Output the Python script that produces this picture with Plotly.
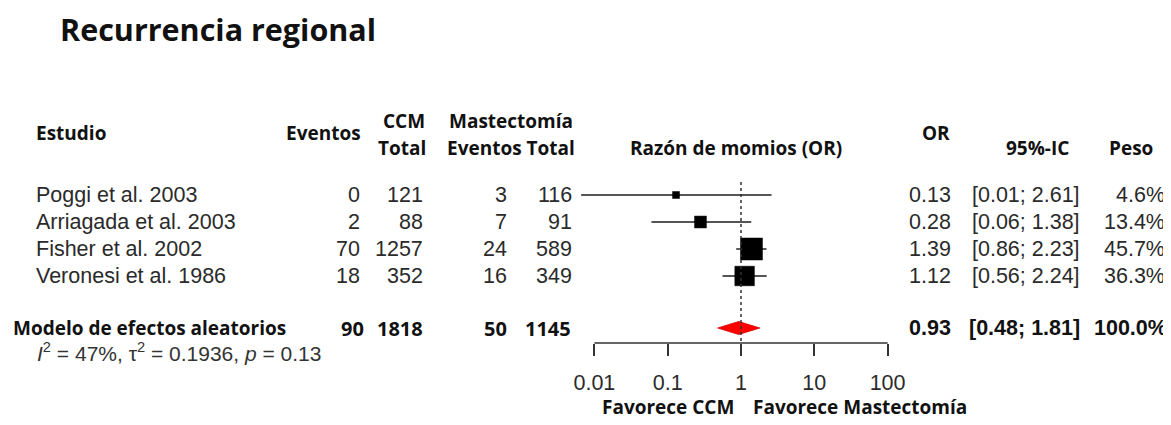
import plotly.graph_objects as go

# ---------------- data ----------------
studies = ["Poggi et al. 2003", "Arriagada et al. 2003", "Fisher et al. 2002", "Veronesi et al. 1986"]
ccm_events = [0, 2, 70, 18]
ccm_total = [121, 88, 1257, 352]
mast_events = [3, 7, 24, 16]
mast_total = [116, 91, 589, 349]
odds_ratio = [0.13, 0.28, 1.39, 1.12]
ci_low = [0.0066, 0.06, 0.86, 0.56]
ci_high = [2.61, 1.38, 2.23, 2.24]
weight = [4.6, 13.4, 45.7, 36.3]

summary_label = "Modelo de efectos aleatorios"
summary_ccm = [90, 1818]
summary_mast = [50, 1145]
summary_or = 0.93
summary_low = 0.48
summary_high = 1.81
summary_weight = 100.0
heterogeneity = "<i>I</i><sup>2</sup> = 47%, τ<sup>2</sup> = 0.1936, <i>p</i> = 0.13"

tick_vals = [0.01, 0.1, 1, 10, 100]
tick_text = ["0.01", "0.1", "1", "10", "100"]

title = "Recurrencia regional"

# ---------------- layout helpers ----------------
PAGE_W, PAGE_H = 1171, 425
OFF = 8                      # default page margin around the plot div
W, H = PAGE_W - OFF, PAGE_H - OFF
ROW0, ROWSTEP = 195, 27


def xp(p):
    return (p - OFF) / W


def ypx(p):
    return 1 + (p - ROW0) / ROWSTEP


def ypaper(p):
    return 1 - (p - OFF) / H


rows = [1, 2, 3, 4]
sum_row = ypx(328)

BODY = "Liberation Sans"
HEAD = "Open Sans"
BODY_SIZE = 21.5
HEAD_SIZE = 19
TXT = "#2a2a2a"
DARK = "#111111"

fig = go.Figure()

# whiskers
wx, wy = [], []
for lo, hi, r in zip(ci_low, ci_high, rows):
    wx += [lo, hi, None]
    wy += [r, r, None]
fig.add_trace(go.Scatter(x=wx, y=wy, mode="lines", line=dict(color="#555555", width=1.9),
                         hoverinfo="skip", showlegend=False))

# squares (area proportional to weight)
fig.add_trace(go.Scatter(x=odds_ratio, y=rows, mode="markers", opacity=1,
                         marker=dict(symbol="square", color="#000000", opacity=1,
                                     size=[3.25 * w ** 0.5 for w in weight],
                                     line=dict(width=0.5, color="#000000")),
                         showlegend=False, hoverinfo="skip"))

# diamond for pooled estimate
h = 6.5 / ROWSTEP
fig.add_trace(go.Scatter(x=[summary_low, summary_or, summary_high, summary_or, summary_low],
                         y=[sum_row, sum_row - h, sum_row, sum_row + h, sum_row],
                         mode="lines", fill="toself", fillcolor="#ff0000",
                         line=dict(color="#d00000", width=0.8), showlegend=False, hoverinfo="skip"))

shapes = [
    # reference line at OR = 1
    dict(type="line", xref="x", yref="y", x0=1, x1=1, y0=ypx(182), y1=ypx(343),
         line=dict(color="#333333", width=1.5, dash="dot")),
    # axis baseline between first and last tick
    dict(type="line", xref="x", yref="paper", x0=tick_vals[0], x1=tick_vals[-1],
         y0=ypaper(343), y1=ypaper(343), line=dict(color="#333333", width=1.5)),
]

ann = []


def add(text, x, y, anchor="left", font=BODY, size=BODY_SIZE, color=TXT, bold=False, yref="y"):
    ann.append(dict(text=f"<b>{text}</b>" if bold else text, x=xp(x), xref="paper", y=y, yref=yref,
                    xanchor=anchor, yanchor="middle", showarrow=False, borderpad=0, borderwidth=0,
                    font=dict(family=font, size=size, color=color)))


# title
add(title, 60, ypaper(29), font=HEAD, size=30.5, color=DARK, bold=True, yref="paper")

# headers
add("Estudio", 36, ypx(133), font=HEAD, size=HEAD_SIZE, color=DARK, bold=True)
add("Eventos", 361, ypx(133), anchor="right", font=HEAD, size=HEAD_SIZE, color=DARK, bold=True)
add("CCM", 404, ypx(121), anchor="center", font=HEAD, size=HEAD_SIZE, color=DARK, bold=True)
add("Total", 426, ypx(148), anchor="right", font=HEAD, size=HEAD_SIZE, color=DARK, bold=True)
add("Mastectomía", 511, ypx(121), anchor="center", font=HEAD, size=HEAD_SIZE, color=DARK, bold=True)
add("Eventos Total", 575, ypx(148), anchor="right", font=HEAD, size=HEAD_SIZE, color=DARK, bold=True)
add("Razón de momios (OR)", 736, ypx(148), anchor="center", font=HEAD, size=HEAD_SIZE, color=DARK, bold=True)
add("OR", 936, ypx(133), anchor="center", font=HEAD, size=HEAD_SIZE, color=DARK, bold=True)
add("95%-IC", 1037, ypx(148), anchor="center", font=HEAD, size=HEAD_SIZE, color=DARK, bold=True)
add("Peso", 1131, ypx(148), anchor="center", font=HEAD, size=HEAD_SIZE, color=DARK, bold=True)

# study rows
for i, r in enumerate(rows):
    add(studies[i], 36, r)
    add(str(ccm_events[i]), 360, r, anchor="right")
    add(str(ccm_total[i]), 423, r, anchor="right")
    add(str(mast_events[i]), 507, r, anchor="right")
    add(str(mast_total[i]), 572, r, anchor="right")
    add(f"{odds_ratio[i]:.2f}", 951, r, anchor="right")
    add(f"[{ci_low[i]:.2f}; {ci_high[i]:.2f}]", 1080, r, anchor="right")
    add(f"{weight[i]:.1f}%", 1165, r, anchor="right")

# summary row
add(summary_label, 13, sum_row, font=HEAD, size=HEAD_SIZE, color=DARK, bold=True)
add(str(summary_ccm[0]), 364, sum_row, anchor="right", font=HEAD, size=20, color=DARK, bold=True)
add(str(summary_ccm[1]), 423, sum_row, anchor="right", font=HEAD, size=20, color=DARK, bold=True)
add(str(summary_mast[0]), 507, sum_row, anchor="right", font=HEAD, size=20, color=DARK, bold=True)
add(str(summary_mast[1]), 571, sum_row, anchor="right", font=HEAD, size=20, color=DARK, bold=True)
add(f"{summary_or:.2f}", 951, sum_row, anchor="right", color=DARK, bold=True)
add(f"[{summary_low:.2f}; {summary_high:.2f}]", 1080, sum_row, anchor="right", color=DARK, bold=True)
add(f"{summary_weight:.1f}%", 1167, sum_row, anchor="right", color=DARK, bold=True)
add(heterogeneity, 37, ypx(352), size=21, color="#333333")

# favours labels
add("Favorece CCM", 734, ypaper(407), anchor="right", font=HEAD, size=HEAD_SIZE, color=DARK, bold=True, yref="paper")
add("Favorece Mastectomía", 753, ypaper(407), anchor="left", font=HEAD, size=HEAD_SIZE, color=DARK, bold=True, yref="paper")

DEC = 73.3
fig.update_layout(
    width=W, height=H, margin=dict(l=0, r=0, t=0, b=0, pad=0),
    paper_bgcolor="white", plot_bgcolor="white",
    shapes=shapes, annotations=ann, showlegend=False,
    xaxis=dict(type="log", range=[-2.4, 2.4], domain=[xp(741 - 2.4 * DEC), xp(741 + 2.4 * DEC)],
               anchor="free", position=ypaper(343), showgrid=False, zeroline=False, showline=False,
               ticks="outside", ticklen=12, tickwidth=1.5, tickcolor="#333333",
               tickvals=tick_vals, ticktext=tick_text, ticklabelstandoff=8,
               tickfont=dict(family=BODY, size=BODY_SIZE, color=TXT), fixedrange=True),
    yaxis=dict(range=[ypx(PAGE_H), ypx(OFF)], domain=[0, 1], visible=False, fixedrange=True),
)

fig.write_html("out.html")
